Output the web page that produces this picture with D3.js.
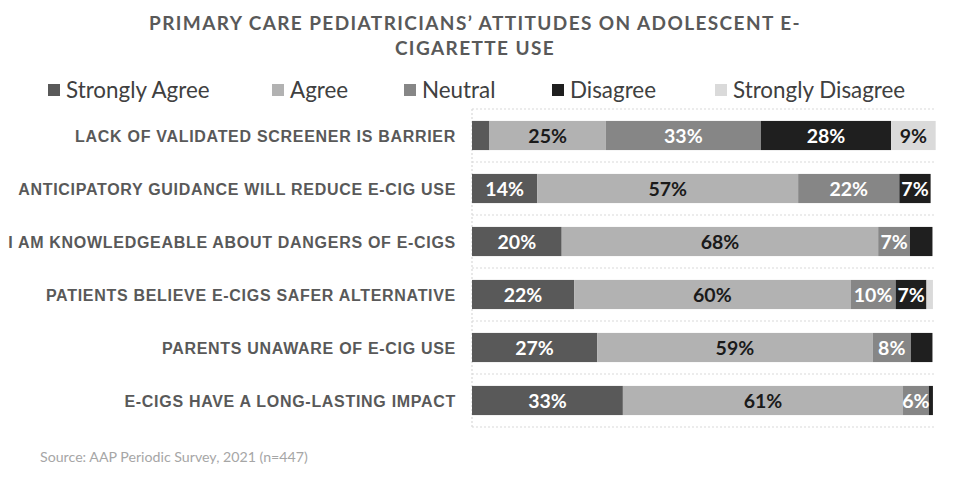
<!DOCTYPE html>
<html>
<head>
<meta charset="utf-8">
<script src="https://cdn.jsdelivr.net/npm/d3@7"></script>
<style>
  html, body { margin: 0; padding: 0; background: #fff; }
  svg { display: block; }
</style>
</head>
<body>
<svg id="chart" width="968" height="479"></svg>
<script>
const titleLines = ["PRIMARY CARE PEDIATRICIANS\u2019 ATTITUDES ON ADOLESCENT E-", "CIGARETTE USE"];
const sourceText = "Source: AAP Periodic Survey, 2021 (n=447)";
const categories = [
  "LACK OF VALIDATED SCREENER IS BARRIER",
  "ANTICIPATORY GUIDANCE WILL REDUCE E-CIG USE",
  "I AM KNOWLEDGEABLE ABOUT DANGERS OF E-CIGS",
  "PATIENTS BELIEVE E-CIGS SAFER ALTERNATIVE",
  "PARENTS UNAWARE OF E-CIG USE",
  "E-CIGS HAVE A LONG-LASTING IMPACT"
];
const seriesNames = ["Strongly Agree", "Agree", "Neutral", "Disagree", "Strongly Disagree"];
const stronglyAgree    = [3.8, 14.2, 19.5, 22.2, 27.2, 32.8];
const agree            = [25.3, 56.7, 68.8, 60.1, 59.9, 60.9];
const neutral          = [33.7, 22.0, 6.9, 9.8, 8.3, 5.6];
const disagree         = [28.3, 6.8, 4.9, 6.7, 4.7, 0.9];
const stronglyDisagree = [9.7, 0, 0, 1.4, 0, 0];
const labelsSA  = ["", "14%", "20%", "22%", "27%", "33%"];
const labelsA   = ["25%", "57%", "68%", "60%", "59%", "61%"];
const labelsN   = ["33%", "22%", "7%", "10%", "8%", "6%"];
const labelsD   = ["28%", "7%", "", "7%", "", ""];
const labelsSD  = ["9%", "", "", "", "", ""];

const colors = ["#595959", "#b2b2b2", "#868686", "#1f1f1f", "#dadada"];
const textColors = ["#ffffff", "#1a1a1a", "#ffffff", "#ffffff", "#1a1a1a"];

const seriesValues = [stronglyAgree, agree, neutral, disagree, stronglyDisagree];
const seriesLabels = [labelsSA, labelsA, labelsN, labelsD, labelsSD];

const rows = categories.map((c, i) => {
  const o = { category: c };
  seriesNames.forEach((s, j) => { o[s] = seriesValues[j][i]; });
  return o;
});

const svg = d3.select("#chart");

const x = d3.scaleLinear().domain([0, 100]).range([472, 932]);
const y = d3.scaleBand().domain(categories).range([109, 427]).paddingInner(0.45).paddingOuter(0.225);

// Title
svg.append("g").selectAll("text").data(titleLines).join("text")
  .attr("x", 475).attr("y", (d, i) => 30 + i * 25)
  .attr("text-anchor", "middle")
  .style("font-family", "Lato, 'Open Sans', sans-serif")
  .style("font-weight", "700")
  .style("font-size", "19px")
  .style("letter-spacing", "1.4px")
  .style("fill", "#595959")
  .text(d => d);

// Legend
const legendX = [48, 272, 404, 552, 715];
const lg = svg.append("g").selectAll("g").data(seriesNames).join("g")
  .attr("transform", (d, i) => `translate(${legendX[i]},90)`);
lg.append("rect").attr("x", 0).attr("y", -6).attr("width", 12).attr("height", 12)
  .attr("fill", (d, i) => colors[i]);
lg.append("text").attr("x", 18).attr("y", 8)
  .style("font-family", "Lato, 'Open Sans', sans-serif")
  .style("font-size", "22.4px")
  .style("fill", "#404040")
  .text(d => d);

// Gridlines
const step = y.step();
const gridYs = d3.range(categories.length + 1).map(i => 109 + i * step);
svg.append("g").selectAll("line").data(gridYs).join("line")
  .attr("x1", 472).attr("x2", 936)
  .attr("y1", d => d).attr("y2", d => d)
  .attr("stroke", "#d9d9d9").attr("stroke-width", 1.2)
  .attr("stroke-dasharray", "2,2");
svg.append("line")
  .attr("x1", 472).attr("x2", 472).attr("y1", 109).attr("y2", 427)
  .attr("stroke", "#d9d9d9").attr("stroke-width", 1.2)
  .attr("stroke-dasharray", "2,2");

// Stacked bars
const stack = d3.stack().keys(seriesNames);
const stacked = stack(rows);

const layers = svg.append("g").selectAll("g").data(stacked).join("g")
  .attr("fill", (d, i) => colors[i]);
layers.selectAll("rect").data(d => d).join("rect")
  .attr("x", d => x(d[0]))
  .attr("y", d => y(d.data.category))
  .attr("width", d => Math.max(0, x(d[1]) - x(d[0])))
  .attr("height", y.bandwidth());

// Value labels
stacked.forEach((layer, si) => {
  svg.append("g").selectAll("text").data(layer).join("text")
    .attr("x", d => (x(d[0]) + x(d[1])) / 2)
    .attr("y", d => y(d.data.category) + y.bandwidth() / 2 + 7)
    .attr("text-anchor", "middle")
    .style("font-family", "Lato, 'Open Sans', sans-serif")
    .style("font-weight", "700")
    .style("font-size", "19.5px")
    .style("fill", textColors[si])
    .text((d, i) => seriesLabels[si][i]);
});

// Category labels
svg.append("g").selectAll("text").data(categories).join("text")
  .attr("x", 456)
  .attr("y", d => y(d) + y.bandwidth() / 2 + 6)
  .attr("text-anchor", "end")
  .style("font-family", "'Liberation Sans', Arial, sans-serif")
  .style("font-weight", "700")
  .style("font-size", "16px")
  .style("letter-spacing", "0.7px")
  .style("fill", "#595959")
  .text(d => d);

// Source
svg.append("text")
  .attr("x", 40).attr("y", 462)
  .style("font-family", "Lato, 'Open Sans', sans-serif")
  .style("font-size", "14.2px")
  .style("fill", "#a6a6a6")
  .text(sourceText);
</script>
</body>
</html>
